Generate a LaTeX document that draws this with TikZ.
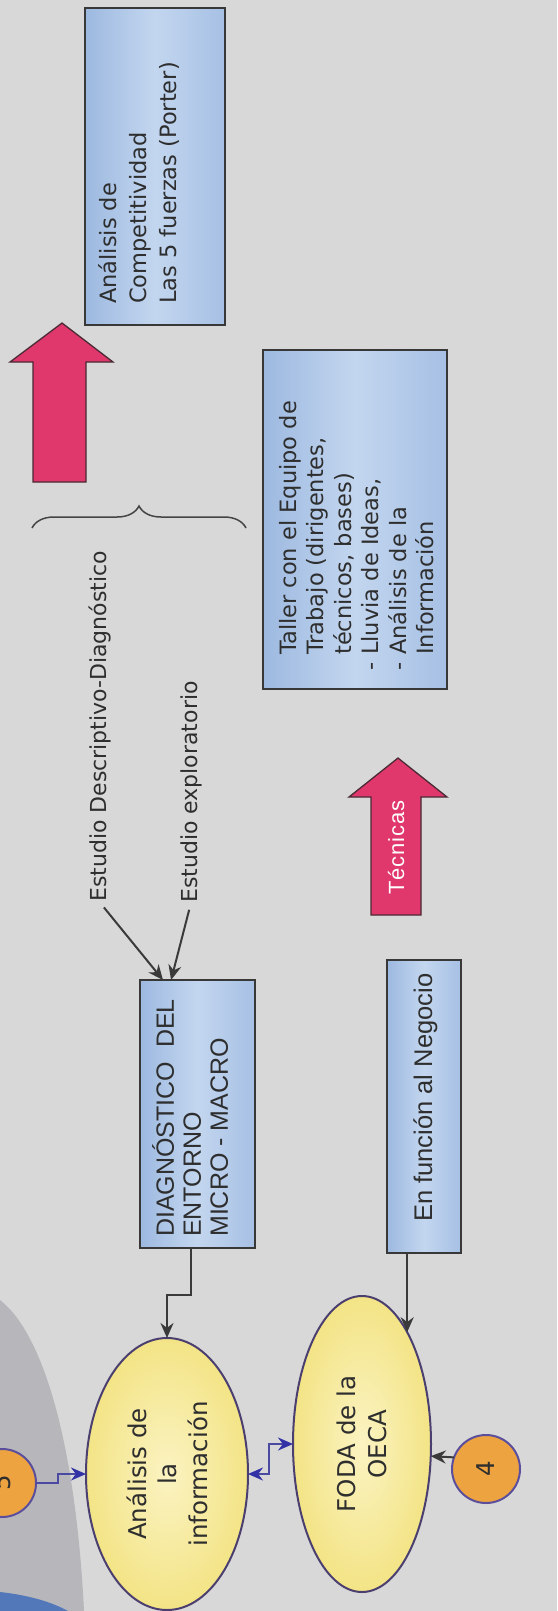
\documentclass[tikz,border=0pt]{standalone}
\usepackage{fontspec}
\setmainfont{DejaVu Sans}
\newfontfamily\arialf{Liberation Sans}
\usetikzlibrary{shapes.geometric,arrows.meta,decorations.pathreplacing,calc}
\definecolor{paper}{HTML}{D8D8D8}
\definecolor{shadowgray}{HTML}{B6B6BB}
\definecolor{bluecorner}{HTML}{5278BA}
\definecolor{boxblue}{HTML}{9DB9E0}
\definecolor{boxblueb}{HTML}{A6C0E4}
\definecolor{boxlight}{HTML}{C3D6EF}
\definecolor{pinkar}{HTML}{E0376C}
\definecolor{pinkedge}{HTML}{4A2A34}
\definecolor{elyel}{HTML}{F3E486}
\definecolor{elylight}{HTML}{FBF3C2}
\definecolor{orng}{HTML}{EDA33F}
\definecolor{circedge}{HTML}{5B4E9C}
\definecolor{edgeg}{HTML}{383838}
\definecolor{purp}{HTML}{4B3F70}
\definecolor{congray}{HTML}{3A3A3A}
\definecolor{blueline}{HTML}{4A4AA2}
\definecolor{bluehead}{HTML}{3232A6}
\definecolor{txtgray}{HTML}{2E2E2E}
\definecolor{braceg}{HTML}{444444}
\begin{document}
\begin{tikzpicture}[x=1pt,y=-1pt,
  boxst/.style={rectangle, draw=edgeg, line width=1.7pt, left color=boxblue, right color=boxblueb, middle color=boxlight, inner sep=0pt, outer sep=0pt, anchor=north west},
  ellst/.style={ellipse, draw=purp, line width=2pt, inner color=elylight, outer color=elyel, inner sep=0pt, outer sep=0pt},
  circst/.style={circle, draw=circedge, line width=2pt, fill=orng, minimum size=68pt, inner sep=0pt, outer sep=0pt},
  rtxt/.style={rotate=90, inner sep=0pt, text=txtgray, align=left},
  dvtxt/.style={rtxt, font=\fontsize{22.5}{30}\selectfont},
  artxt/.style={rtxt, font=\arialf\fontsize{25}{27}\selectfont},
  eltxt/.style={rotate=90, inner sep=0pt, text=txtgray, align=center, font=\fontsize{24.5}{30.5}\selectfont},
  darkcon/.style={draw=congray, line width=2pt, -{Stealth[length=15pt,width=13pt]}},
  bluecn/.style={draw=blueline, line width=2pt, -{Stealth[length=15pt,width=13pt,color=bluehead]}},
  bluedbl/.style={draw=blueline, line width=2pt, {Stealth[length=15pt,width=13pt,color=bluehead]}-{Stealth[length=15pt,width=13pt,color=bluehead]}},
  pinkarrow/.style={fill=pinkar, draw=pinkedge, line width=1.3pt, line join=miter},
]
\fill[paper] (0,0) rectangle (557,1611);
\useasboundingbox (0,0) rectangle (557,1611);
% page shading at bottom left
\fill[shadowgray] (0,1300) .. controls (45,1335) and (76,1450) .. (84,1611) -- (0,1611) -- cycle;
\fill[bluecorner] (0,1592) .. controls (28,1595) and (52,1602) .. (68,1611) -- (0,1611) -- cycle;

% boxes
\node[boxst, minimum width=140pt, minimum height=317pt] (comp) at (85,8) {};
\node[boxst, minimum width=184pt, minimum height=339pt] (taller) at (263,350) {};
\node[boxst, minimum width=115pt, minimum height=268pt] (diag) at (140,980) {};
\node[boxst, minimum width=74pt, minimum height=293pt] (enf) at (387,960) {};

% box texts
\node[dvtxt, anchor=north west] (comptext) at (98,304) {Análisis de\\Competitividad\\Las 5 fuerzas (Porter)};
\node[dvtxt, anchor=north west, font=\fontsize{22.5}{27.5}\selectfont] (tallertext) at (279,655) {Taller con el Equipo de\\Trabajo (dirigentes,\\técnicos, bases)\\\llap{- }Lluvia de Ideas,\\\llap{- }Análisis de la\\Información};
\node[artxt, anchor=north west] (diagtext) at (152,1237) {DIAGNÓSTICO\ \ DEL\\ENTORNO\\MICRO - MACRO};
\node[artxt, anchor=base west, font=\arialf\fontsize{25.5}{28}\selectfont] (enftext) at (432,1222) {En función al Negocio};

% pink arrows
\filldraw[pinkarrow] (62,323) -- (113,362) -- (86,362) -- (86,482) -- (33,482) -- (33,362) -- (10,362) -- cycle;
\filldraw[pinkarrow] (398,758) -- (447,797) -- (421,797) -- (421,915) -- (371,915) -- (371,797) -- (349,797) -- cycle;
\node[rtxt, anchor=base west, text=white, font=\arialf\fontsize{22}{26}\selectfont\addfontfeatures{LetterSpace=4}] (tectext) at (404,895) {Técnicas};

% brace
\draw[decorate, decoration={brace, amplitude=22pt}, draw=braceg, line width=1.5pt] (32,528) -- (246,528);

% estudio labels
\node[dvtxt, anchor=base west, font=\fontsize{22}{28}\selectfont] (desc) at (106,902) {Estudio Descriptivo-Diagnóstico};
\node[dvtxt, anchor=base west, font=\fontsize{22}{28}\selectfont] (explo) at (197,903) {Estudio exploratorio};

% ellipses and circles
\node[ellst, minimum width=162pt, minimum height=272pt] (ana) at (167,1474) {};
\node[eltxt] (anatext) at (ana.center) {Análisis de\\la\\información};
\node[ellst, minimum width=138pt, minimum height=296pt] (foda) at (362,1444) {};
\node[eltxt] (fodatext) at (foda.center) {FODA de la\\OECA};
\node[circst] (c4) at (486,1469) {};
\node[eltxt] (c4text) at (c4.center) {4};
\node[circst] (c5) at (2,1483) {};
\node[eltxt] (c5text) at (c5.center) {5};

% connectors
\draw[darkcon, shorten <=7pt] (desc.west) -- ($(diag.north west)!0.2!(diag.north east)$);
\draw[darkcon, shorten <=7pt] (explo.west) -- ($(diag.north west)!0.27!(diag.north east)$);
\draw[darkcon] ($(diag.south west)!0.44!(diag.south east)$) -- ++(0,47) -| (ana.north);
\draw[darkcon] (foda.68 |- enf.south) -- (foda.68);
\draw[darkcon] (c4.160) -- (foda.-10);
\draw[bluecn] (c5.east) -- ++(22,0) |- (ana.west);
\draw[bluedbl] (ana.east) -- ++(21,0) |- (foda.west);
\end{tikzpicture}
\end{document}
